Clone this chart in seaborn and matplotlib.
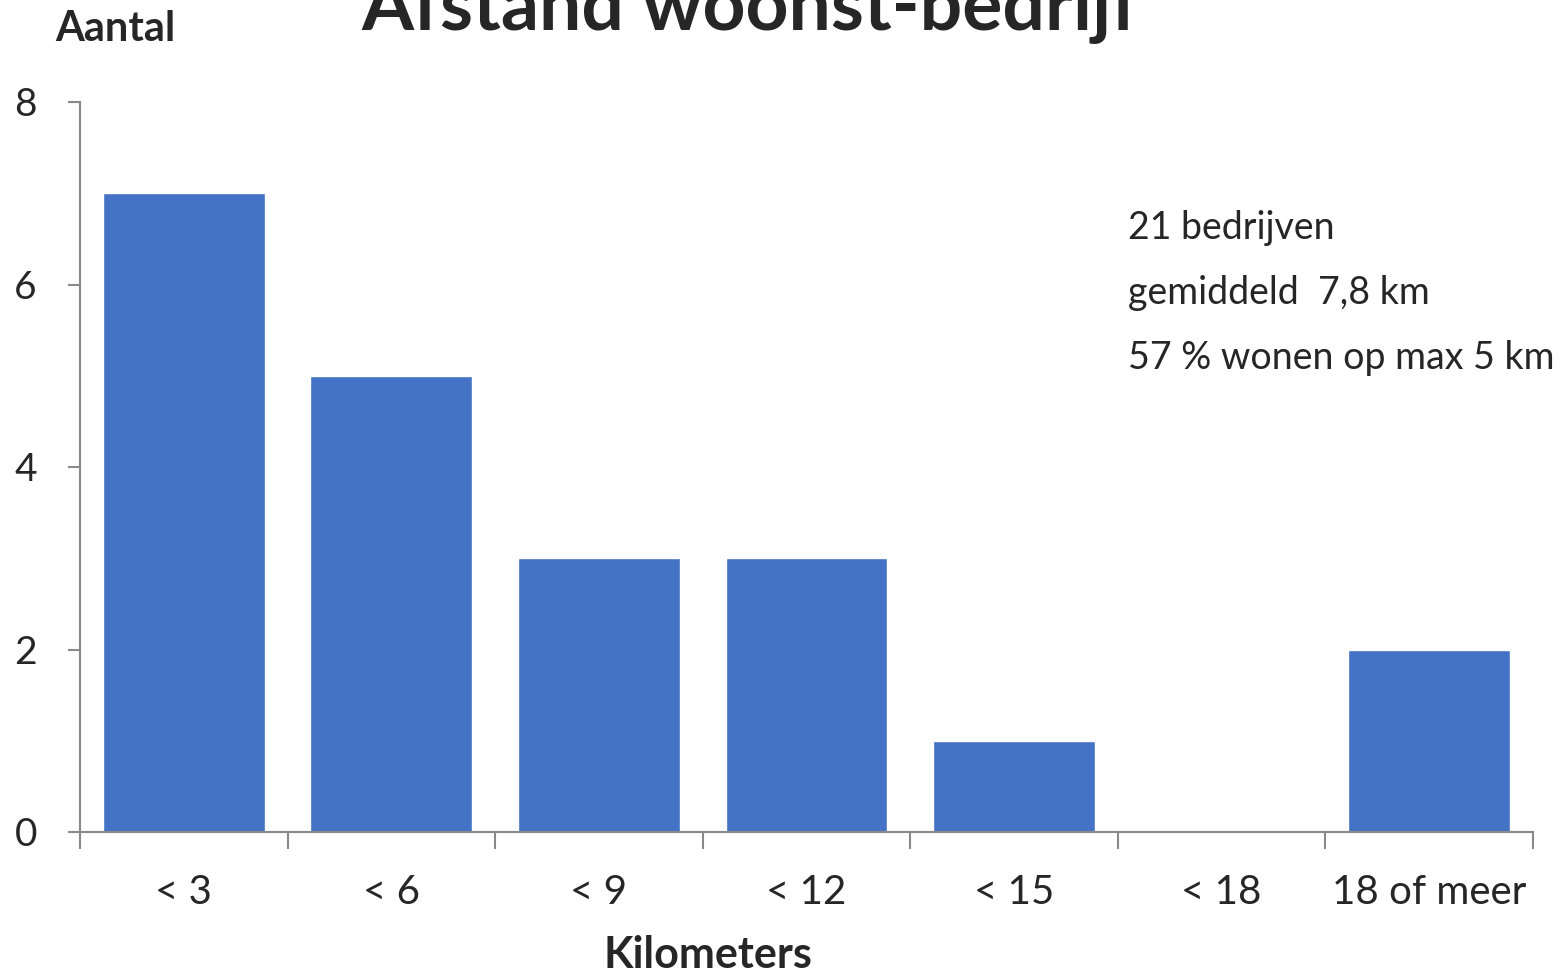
import matplotlib
matplotlib.use("Agg")
import matplotlib.pyplot as plt
import seaborn as sns
import pandas as pd
import numpy as np

# gegevens
categories = ['< 3', '< 6', '< 9', '< 12', '< 15', '< 18', '18 of meer']
counts = [7, 5, 3, 3, 1, 0, 2]
notes = ['21 bedrijven', 'gemiddeld  7,8 km', '57 % wonen op max 5 km']

df = pd.DataFrame({'cat': categories, 'n': counts})

sns.set_style('white')
plt.rcParams['font.family'] = ['Lato', 'DejaVu Sans']

W, H = 1564, 976
fig = plt.figure(figsize=(W / 100, H / 100), dpi=100)
ax = fig.add_axes([80 / W, 1 - 832 / H, (1533 - 80) / W, (832 - 102) / H])

sns.barplot(data=df, x='cat', y='n', color='#4472C4', width=0.78,
            saturation=1, ax=ax, order=categories)

ax.set_xlim(-0.5, len(categories) - 0.5)
ax.set_ylim(0, 8)
ax.set_yticks([0, 2, 4, 6, 8])
ax.set_xlabel('')
ax.set_ylabel('')

grey = '#898989'
for s in ['top', 'right']:
    ax.spines[s].set_visible(False)
for s in ['left', 'bottom']:
    ax.spines[s].set_color(grey)
    ax.spines[s].set_linewidth(1.5)

# x-ticks op de grenzen, labels in het midden
ax.set_xticks(np.arange(len(categories) + 1) - 0.5)
ax.set_xticklabels([])
ax.set_xticks(np.arange(len(categories)), minor=True)
ax.set_xticklabels(categories, minor=True, fontsize=29)
ax.tick_params(axis='x', which='major', bottom=True, length=12, width=1.5,
               color=grey, direction='out')
ax.tick_params(axis='x', which='minor', bottom=True, length=0, pad=30)
ax.tick_params(axis='y', left=True, length=9, width=1.5, color=grey,
               direction='out', labelsize=28, pad=22)

fig.text(750 / W, 1 - 30 / H, 'Afstand woonst-bedrijf', fontsize=54,
         fontweight='bold', ha='center', va='baseline')
fig.text(55 / W, 1 - 41 / H, 'Aantal', fontsize=30, fontweight='bold',
         ha='left', va='baseline')
fig.text(708 / W, 1 - 968 / H, 'Kilometers', fontsize=31, fontweight='bold',
         ha='center', va='baseline')

for i, t in enumerate(notes):
    fig.text(1128 / W, 1 - (239 + 65 * i) / H, t, fontsize=27,
             ha='left', va='baseline')

fig.savefig('out.png', dpi=100)
